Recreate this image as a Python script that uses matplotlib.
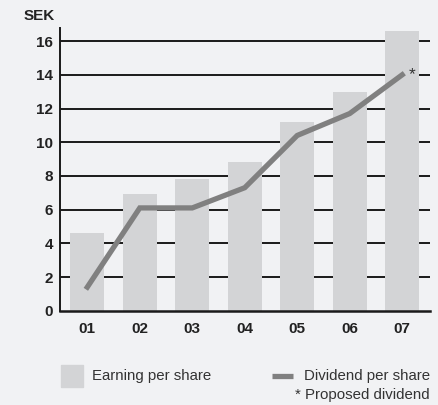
import matplotlib
matplotlib.use("Agg")
import matplotlib.pyplot as plt
from matplotlib.patches import Rectangle
from matplotlib.lines import Line2D

plt.rcParams['font.family'] = ['Liberation Sans', 'DejaVu Sans']

# Données
years = ['01', '02', '03', '04', '05', '06', '07']
earning = [4.6, 6.9, 7.8, 8.8, 11.2, 13.0, 16.6]
dividend = [1.4, 6.1, 6.1, 7.3, 10.4, 11.7, 14.0]
yticks = [0, 2, 4, 6, 8, 10, 12, 14, 16]

bg = '#f1f2f4'
bar_col = '#d3d4d6'
line_col = '#808080'

fig = plt.figure(figsize=(4.39, 4.05), dpi=100)
fig.patch.set_facecolor(bg)
ax = fig.add_axes([0.1367, 0.2328, 0.8428, 0.699])
ax.set_facecolor(bg)

x = list(range(len(years)))

# Lignes horizontales derrière les barres
for t in yticks[1:]:
    ax.axhline(t, color='#1a1a1a', lw=1.4, zorder=1)

ax.bar(x, earning, width=0.65, color=bar_col, zorder=2)
ax.plot(x, dividend, color=line_col, lw=3.8, zorder=3, solid_joinstyle='miter')
ax.text(x[-1] + 0.12, dividend[-1], '*', fontsize=12.5, color='#333333',
        ha='left', va='center', zorder=4)

ax.set_xlim(-0.52, 6.53)
ax.set_ylim(0, 16.8)
ax.set_xticks(x)
ax.set_xticklabels(years, fontsize=11, fontweight='bold', color='#222222')
ax.set_yticks(yticks)
ax.set_yticklabels([str(t) for t in yticks], fontsize=11, fontweight='bold', color='#222222')
ax.tick_params(axis='both', length=0)
ax.tick_params(axis='x', pad=8)
ax.tick_params(axis='y', pad=5)

ax.spines[['top', 'right']].set_visible(False)
ax.spines['left'].set_color('#1a1a1a')
ax.spines['left'].set_linewidth(1.4)
ax.spines['bottom'].set_color('#1a1a1a')
ax.spines['bottom'].set_linewidth(1.8)

fig.text(24 / 439, 1 - 16 / 405, 'SEK', fontsize=11, fontweight='bold',
         color='#222222', ha='left', va='center')

# Légende dessinée à la main
fig.patches.append(Rectangle((61 / 439, 1 - 387 / 405), 22 / 439, 22 / 405,
                             transform=fig.transFigure, color=bar_col))
fig.text(92 / 439, 1 - 376 / 405, 'Earning per share', fontsize=10.8,
         color='#333333', ha='left', va='center')
fig.lines.append(Line2D([272 / 439, 293 / 439], [1 - 376 / 405, 1 - 376 / 405],
                        transform=fig.transFigure, color=line_col, lw=3.8,
                        solid_capstyle='butt'))
fig.text(430 / 439, 1 - 376 / 405, 'Dividend per share', fontsize=10.8,
         color='#333333', ha='right', va='center')
fig.text(430 / 439, 1 - 395 / 405, '* Proposed dividend', fontsize=10.8,
         color='#333333', ha='right', va='center')

fig.savefig('out.png', dpi=100, facecolor=bg)
